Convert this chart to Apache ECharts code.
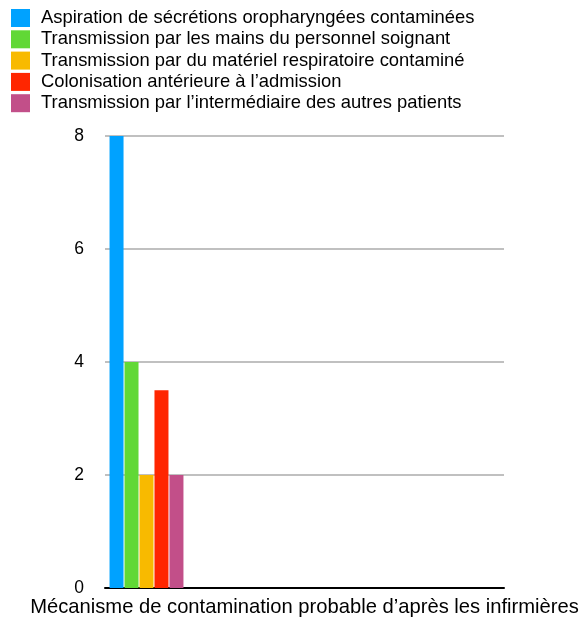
<!DOCTYPE html>
<html>
<head>
<meta charset="utf-8">
<script src="https://cdn.jsdelivr.net/npm/echarts@6/dist/echarts.min.js"></script>
<style>
  html, body { margin: 0; padding: 0; background: #fff; }
  #chart { width: 585px; height: 619px; }
</style>
</head>
<body>
<div id="chart"></div>
<script>
// Category and series
const categories = ['Mécanisme de contamination probable d’après les infirmières'];
const seriesNames = [
  'Aspiration de sécrétions oropharyngées contaminées',
  'Transmission par les mains du personnel soignant',
  'Transmission par du matériel respiratoire contaminé',
  'Colonisation antérieure à l’admission',
  'Transmission par l’intermédiaire des autres patients'
];
const seriesValues = [8, 4, 2, 3.5, 2];
const seriesColors = ['#00a2ff', '#61d836', '#f8ba00', '#ff2600', '#c24f89'];
const yTicks = [0, 2, 4, 6, 8];

const FONT = '"Liberation Sans", Arial, Helvetica, sans-serif';
const chart = echarts.init(document.getElementById('chart'), null, { renderer: 'canvas' });

const series = seriesNames.map((name, i) => ({
  name: name,
  type: 'bar',
  xAxisIndex: 1,
  yAxisIndex: 1,
  barWidth: 14,
  barGap: '7%',
  itemStyle: { color: seriesColors[i] },
  data: [seriesValues[i]]
}));

chart.setOption({
  animation: false,
  textStyle: { fontFamily: FONT },
  legend: {
    orient: 'vertical',
    left: 11,
    top: 9,
    padding: 0,
    itemWidth: 19,
    itemHeight: 18,
    itemGap: 3.3,
    icon: 'rect',
    selectedMode: false,
    textStyle: { fontFamily: FONT, fontSize: 18.4, color: '#000', padding: [0, 0, 0, 6], lineHeight: 18 },
    data: seriesNames
  },
  grid: [
    { left: 105, right: 81, top: 136, bottom: 31, containLabel: false, outerBoundsMode: 'none' },
    { left: 105, width: 83, top: 136, bottom: 31, containLabel: false, outerBoundsMode: 'none' }
  ],
  xAxis: [
    {
      gridIndex: 0,
      type: 'category',
      data: categories,
      axisLine: { show: true, lineStyle: { color: '#000', width: 2 } },
      axisTick: { show: false },
      axisLabel: { show: false },
      name: categories[0],
      nameLocation: 'middle',
      nameGap: 9,
      nameTextStyle: { fontFamily: FONT, fontSize: 20.2, color: '#000' }
    },
    {
      gridIndex: 1,
      type: 'category',
      data: categories,
      show: false
    }
  ],
  yAxis: [
    {
      gridIndex: 0,
      type: 'value',
      min: yTicks[0],
      max: yTicks[yTicks.length - 1],
      interval: 2,
      axisLine: { show: false },
      axisTick: { show: false },
      axisLabel: { fontFamily: FONT, fontSize: 17.5, color: '#000', margin: 21 },
      splitLine: { show: true, lineStyle: { color: '#c0c0c0', width: 2 } }
    },
    {
      gridIndex: 1,
      type: 'value',
      min: yTicks[0],
      max: yTicks[yTicks.length - 1],
      interval: 2,
      show: false,
      splitLine: { show: false }
    }
  ],
  series: series
});
</script>
</body>
</html>
